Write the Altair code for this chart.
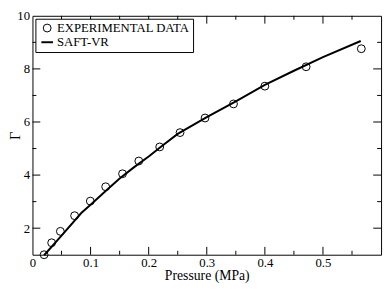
import altair as alt
import pandas as pd

# ---- data ----
series = ["EXPERIMENTAL DATA", "SAFT-VR"]

exp_x = [0.020, 0.033, 0.048, 0.0725, 0.0995, 0.126, 0.155, 0.183, 0.219,
         0.254, 0.297, 0.346, 0.400, 0.471, 0.566]
exp_y = [1.00, 1.45, 1.88, 2.47, 3.02, 3.56, 4.05, 4.53, 5.06,
         5.60, 6.15, 6.68, 7.35, 8.08, 8.76]

saft_x = [0.020, 0.050, 0.084, 0.100, 0.125, 0.150, 0.175, 0.200, 0.225,
          0.250, 0.300, 0.350, 0.400, 0.450, 0.500, 0.565]
saft_y = [0.98, 1.72, 2.57, 2.88, 3.38, 3.87, 4.30, 4.70, 5.13,
          5.55, 6.18, 6.78, 7.40, 7.93, 8.44, 9.05]

x_labels = [0, 0.1, 0.2, 0.3, 0.4, 0.5]
y_labels = [2, 4, 6, 8, 10]
x_major = [0.1, 0.2, 0.3, 0.4, 0.5]
x_minor = [0.05, 0.15, 0.25, 0.35, 0.45, 0.55]
y_major = [2, 4, 6, 8]
y_minor = [3, 5, 7, 9]
x_domain = [0, 0.6]
y_domain = [1, 10]

exp = pd.DataFrame({"p": exp_x, "g": exp_y, "s": series[0]})
saft = pd.DataFrame({"p": saft_x, "g": saft_y, "s": series[1]})

W, H = 356, 244
MAJOR, MINOR = 8, 4  # tick lengths in px
FONT = "Liberation Serif"
xs = alt.Scale(domain=x_domain, nice=False, zero=False)
ys = alt.Scale(domain=y_domain, nice=False, zero=False)

# inward tick segments (two end points each), derived from the tick values,
# the frame edges and the tick lengths converted to data units
px_x = (x_domain[1] - x_domain[0]) / W
px_y = (y_domain[1] - y_domain[0]) / H
rows = []
seg = 0
for vals, ln in [(x_major, MAJOR), (x_minor, MINOR)]:
    for v in vals:
        for edge, sign in [(y_domain[0], 1), (y_domain[1], -1)]:
            for k in (0, 1):
                rows.append({"tx": v, "ty": edge + sign * k * ln * px_y, "seg": seg, "k": k})
            seg += 1
for vals, ln in [(y_major, MAJOR), (y_minor, MINOR)]:
    for v in vals:
        for edge, sign in [(x_domain[0], 1), (x_domain[1], -1)]:
            for k in (0, 1):
                rows.append({"tx": edge + sign * k * ln * px_x, "ty": v, "seg": seg, "k": k})
            seg += 1
ticks = pd.DataFrame(rows)

x_label_axis = alt.Axis(
    orient="bottom", values=x_labels, format="~g", ticks=False, domain=False, grid=False,
    labelFont=FONT, labelFontSize=13, labelColor="black", labelPadding=2,
    labelFlush=False, labelOverlap=False,
    title="Pressure (MPa)", titleFont=FONT, titleFontSize=14, titleFontWeight="normal",
    titleColor="black", titleY=21, titleBaseline="middle",
)
y_label_axis = alt.Axis(
    orient="left", values=y_labels, ticks=False, domain=False, grid=False,
    labelFont=FONT, labelFontSize=13, labelColor="black", labelPadding=3,
    labelFlush=False, labelOverlap=False,
    title="Γ", titleFont=FONT, titleFontSize=15, titleFontWeight="normal",
    titleColor="black", titleX=-18, titleY=H / 2, titleBaseline="middle", titleAlign="center",
    titleAngle=270,
)

legend = alt.Legend(
    title=None, orient="top-left", offset=3, strokeColor="black", fillColor="white",
    padding=3, labelFont=FONT, labelFontSize=13, labelColor="black",
    symbolStrokeColor="black", symbolFillColor="transparent",
    symbolOffset=2, labelOffset=3, rowPadding=0, cornerRadius=0,
)

points = alt.Chart(exp).mark_point(filled=False, color="black", opacity=1).encode(
    x=alt.X("p:Q", scale=xs, axis=x_label_axis),
    y=alt.Y("g:Q", scale=ys, axis=y_label_axis),
    shape=alt.Shape("s:N", scale=alt.Scale(domain=series, range=["circle", "stroke"]), legend=legend),
    size=alt.Size("s:N", scale=alt.Scale(domain=series, range=[64, 140]), legend=legend),
    strokeWidth=alt.StrokeWidth("s:N", scale=alt.Scale(domain=series, range=[1, 2]), legend=legend),
)

line = alt.Chart(saft).mark_line(color="black", strokeWidth=2).encode(
    x=alt.X("p:Q", scale=xs, axis=None),
    y=alt.Y("g:Q", scale=ys, axis=None),
)

tick_marks = alt.Chart(ticks).mark_line(color="black", strokeWidth=1).encode(
    x=alt.X("tx:Q", scale=xs, axis=None),
    y=alt.Y("ty:Q", scale=ys, axis=None),
    detail="seg:N",
    order="k:Q",
)

chart = alt.layer(line, points, tick_marks).resolve_axis(x="independent", y="independent").properties(
    width=W, height=H,
    padding={"left": 25, "top": 5, "right": 3, "bottom": 30},
    autosize=alt.AutoSizeParams(type="none"),
    background="white",
).configure_view(stroke="black", strokeWidth=1)

chart.save("out.html", embed_options={"renderer": "svg", "actions": False})
